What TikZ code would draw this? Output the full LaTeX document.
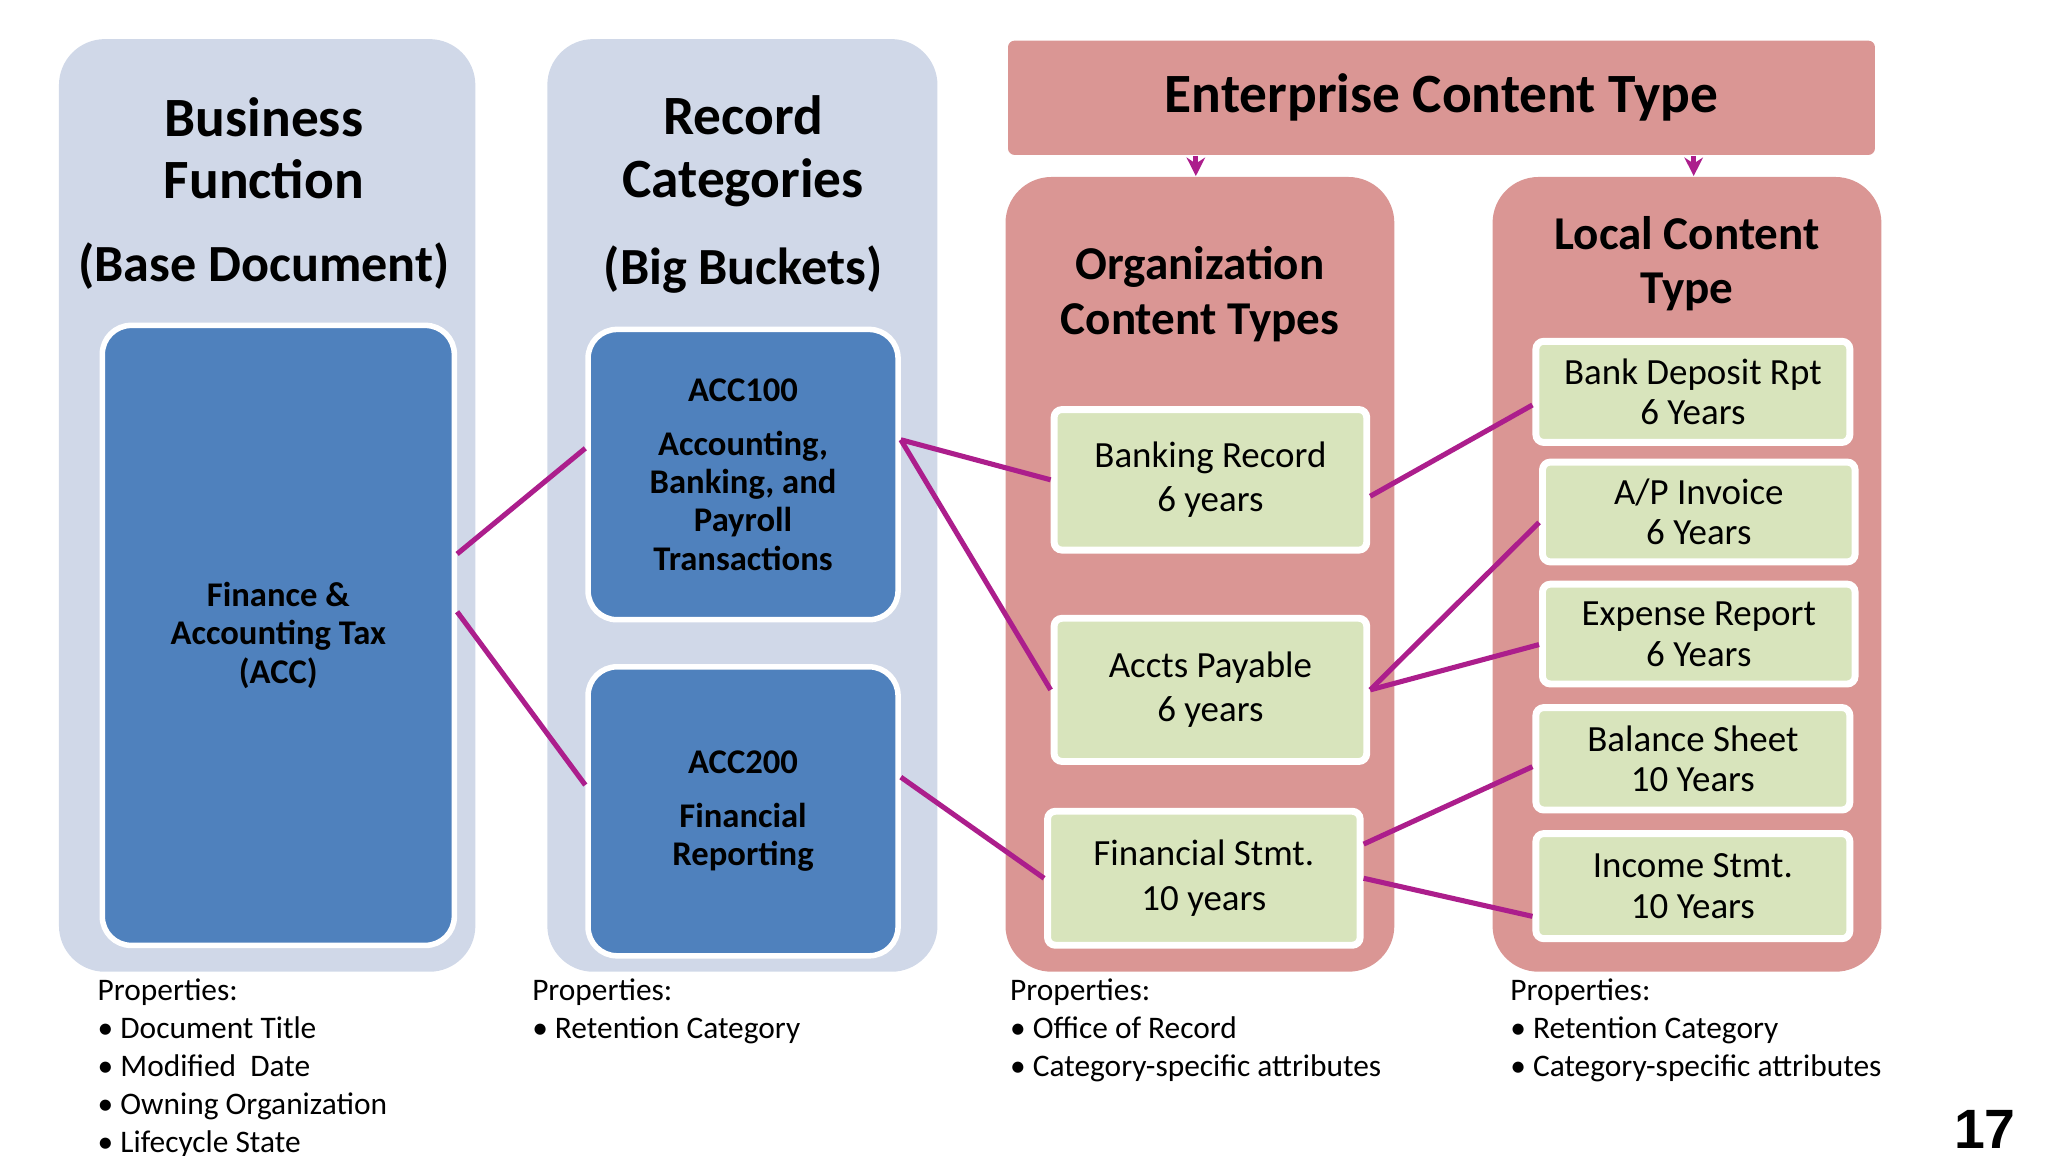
\documentclass[tikz,border=0pt]{standalone}
\usepackage{fontspec}
\setmainfont{Carlito}
\newfontfamily\numfont{Liberation Sans}
\usetikzlibrary{arrows.meta}
\definecolor{panelblue}{RGB}{208,216,232}
\definecolor{boxblue}{RGB}{79,129,189}
\definecolor{panelred}{RGB}{218,150,148}
\definecolor{boxgreen}{RGB}{216,228,188}
\definecolor{linkcol}{RGB}{172,30,140}
\tikzset{
  panel/.style={rounded corners=0.35cm, draw=none, inner sep=0pt},
  bluebox/.style={rounded corners=0.22cm, fill=boxblue, draw=white, line width=1.2pt, align=center, text=black, font=\fontsize{7.5}{8.3}\selectfont\bfseries},
  greenbox/.style={rounded corners=0.06cm, fill=boxgreen, draw=white, line width=1.5pt, align=center, font=\fontsize{8}{9.6}\selectfont},
  title/.style={align=center, font=\fontsize{12}{13.6}\selectfont\bfseries},
  subtitle/.style={align=center, font=\fontsize{10.2}{11.8}\selectfont\bfseries},
  props/.style={anchor=north west, align=left, font=\fontsize{6.8}{8.25}\selectfont},
  link/.style={draw=linkcol, line width=1.1pt},
  drop/.style={draw=linkcol, line width=1.1pt, -{Stealth[length=4pt,width=4pt]}}
}
\begin{document}
\begin{tikzpicture}[x=0.01cm,y=-0.01cm]
\useasboundingbox (0,0) rectangle (1560,880);
% background panels
\node[panel, fill=panelblue, minimum width=3.17cm, minimum height=7.10cm] (p1) at (203.5,385) {};
\node[panel, fill=panelblue, minimum width=2.97cm, minimum height=7.10cm] (p2) at (565.5,385) {};
\node[panel, fill=panelred, minimum width=2.96cm, minimum height=6.05cm] (p3) at (914,437.5) {};
\node[panel, fill=panelred, minimum width=2.96cm, minimum height=6.05cm] (p4) at (1285,437.5) {};
\node[rounded corners=0.05cm, fill=panelred, minimum width=6.60cm, minimum height=0.87cm, font=\fontsize{12}{14}\selectfont\bfseries] (ect) at (1098,74.5) {Enterprise Content Type};
\draw[drop] ([xshift=-1.87cm]ect.south) -- ([xshift=-1.87cm]ect.south |- p3.north);
\draw[drop] ([xshift=1.92cm]ect.south) -- ([xshift=1.92cm]ect.south |- p4.north);
% titles
\node[title] (t1) at (201,113) {Business\\Function};
\node[title, font=\fontsize{11.3}{13}\selectfont\bfseries] (t1b) at (201,203) {(Base Document)};
\node[title] (t2) at (566,115) {Record\\Categories};
\node[title, font=\fontsize{11.3}{13}\selectfont\bfseries] (t2b) at (566,205) {(Big Buckets)};
\node[subtitle] (t3) at (914,224) {Organization\\Content Types};
\node[subtitle] (t4) at (1285,201) {Local Content\\Type};
% blue boxes
\node[bluebox, minimum width=2.68cm, minimum height=4.72cm] (fin) at (212,484) {Finance \&\\Accounting Tax\\(ACC)};
\node[bluebox, minimum width=2.36cm, minimum height=2.21cm] (acc1) at (566,361.5) {ACC100\\[0.12cm]Accounting,\\Banking, and\\Payroll\\Transactions};
\node[bluebox, minimum width=2.36cm, minimum height=2.20cm] (acc2) at (566,618) {ACC200\\[0.12cm]Financial\\Reporting};
% green boxes
\node[greenbox, minimum width=2.38cm, minimum height=1.07cm] (bank) at (922,365.5) {Banking Record\\6 years};
\node[greenbox, minimum width=2.38cm, minimum height=1.09cm] (accts) at (922,525.5) {Accts Payable\\6 years};
\node[greenbox, minimum width=2.38cm, minimum height=1.02cm] (fst) at (917,669) {Financial Stmt.\\10 years};
\node[greenbox, minimum width=2.39cm, minimum height=0.77cm, font=\fontsize{8}{8.8}\selectfont] (dep) at (1289.5,298.5) {Bank Deposit Rpt\\6 Years};
\node[greenbox, minimum width=2.38cm, minimum height=0.76cm, font=\fontsize{8}{8.8}\selectfont] (ap) at (1294,390) {A/P Invoice\\6 Years};
\node[greenbox, minimum width=2.38cm, minimum height=0.76cm, font=\fontsize{8}{8.8}\selectfont] (exp) at (1294,483) {Expense Report\\6 Years};
\node[greenbox, minimum width=2.39cm, minimum height=0.78cm, font=\fontsize{8}{8.8}\selectfont] (bal) at (1289.5,578) {Balance Sheet\\10 Years};
\node[greenbox, minimum width=2.39cm, minimum height=0.80cm, font=\fontsize{8}{8.8}\selectfont] (inc) at (1289.5,675) {Income Stmt.\\10 Years};
% links
\draw[link] ([yshift=0.62cm]fin.east) -- ([yshift=0.2cm]acc1.west);
\draw[link] ([yshift=0.18cm]fin.east) -- ([yshift=0.2cm]acc2.west);
\draw[link] ([yshift=0.265cm]acc1.east) -- (bank.west);
\draw[link] ([yshift=0.265cm]acc1.east) -- (accts.west);
\draw[link] ([yshift=0.26cm]acc2.east) -- (fst.west);
\draw[link] ([yshift=-0.125cm]bank.east) -- ([yshift=-0.1cm]dep.west);
\draw[link] (accts.east) -- ([yshift=-0.08cm]ap.west);
\draw[link] (accts.east) -- ([yshift=-0.08cm]exp.west);
\draw[link] ([yshift=0.26cm]fst.east) -- ([yshift=-0.06cm]bal.west);
\draw[link] (fst.east) -- ([yshift=-0.23cm]inc.west);
% properties
\node[props] (pr1) at (62,733) {Properties:\\\textbullet\ Document Title\\\textbullet\ Modified\ \ Date\\\textbullet\ Owning Organization\\\textbullet\ Lifecycle State};
\node[props] (pr2) at (393,733) {Properties:\\\textbullet\ Retention Category};
\node[props] (pr3) at (757,733) {Properties:\\\textbullet\ Office of Record\\\textbullet\ Category-specific attributes};
\node[props] (pr4) at (1138,733) {Properties:\\\textbullet\ Retention Category\\\textbullet\ Category-specific attributes};
\node[font=\numfont\fontsize{12}{14}\selectfont\bfseries] (num) at (1512,860) {17};
\end{tikzpicture}
\end{document}
